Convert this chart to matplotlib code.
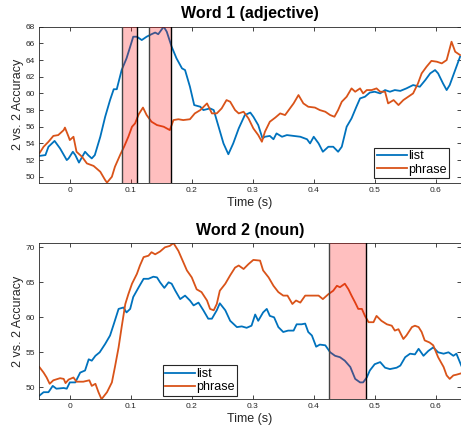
import numpy as np
import matplotlib
matplotlib.use("Agg")
import matplotlib.pyplot as plt

plt.rcParams['font.family'] = ['Liberation Sans', 'DejaVu Sans']

# Word 1 (adjective)
t1_list = [-0.05, -0.04, -0.035, -0.025, -0.016, -0.005, -0.002, 0.005, 0.009, 0.015, 0.025, 0.03,
           0.036, 0.041, 0.05, 0.058, 0.066, 0.072, 0.077, 0.085, 0.093, 0.099, 0.104, 0.11, 0.118,
           0.126, 0.134, 0.14, 0.145, 0.154, 0.159, 0.167, 0.175, 0.184, 0.189, 0.197, 0.204, 0.214,
           0.219, 0.23, 0.236, 0.244, 0.252, 0.26, 0.268, 0.277, 0.287, 0.296, 0.301, 0.309, 0.316,
           0.32, 0.328, 0.334, 0.339, 0.348, 0.356, 0.367, 0.378, 0.389, 0.394, 0.4, 0.408, 0.415,
           0.424, 0.432, 0.44, 0.446, 0.454, 0.462, 0.47, 0.476, 0.484, 0.492, 0.5, 0.509, 0.517,
           0.525, 0.533, 0.542, 0.552, 0.563, 0.574, 0.583, 0.591, 0.599, 0.604, 0.612, 0.618,
           0.623, 0.632, 0.64]
w1_list = [52.5, 52.6, 53.6, 54.3, 53.4, 52.0, 52.2, 53.0, 52.6, 51.7, 53.0, 52.6,
           52.2, 52.6, 54.8, 57.2, 59.2, 60.5, 60.5, 62.8, 64.2, 65.6, 66.8, 66.8, 66.4,
           66.8, 67.1, 67.3, 67.1, 68.0, 67.4, 65.6, 64.2, 63.0, 62.8, 60.8, 58.6, 58.4,
           58.0, 58.2, 58.0, 56.0, 54.0, 52.7, 54.0, 55.8, 57.4, 57.7, 57.2, 56.2, 54.6,
           54.8, 54.9, 54.5, 55.2, 54.8, 55.0, 54.9, 54.8, 54.5, 54.0, 54.8, 54.0, 53.0,
           53.6, 53.6, 53.0, 53.6, 56.0, 57.0, 58.4, 59.4, 59.6, 60.1, 60.2, 60.0, 60.4,
           60.2, 60.4, 60.3, 60.6, 61.0, 60.8, 61.6, 62.4, 62.8, 62.4, 61.2, 60.4,
           61.0, 62.8, 64.4]
t1_phrase = [-0.05, -0.043, -0.035, -0.027, -0.019, -0.01, -0.008, -0.002, 0.0, 0.006, 0.011,
             0.02, 0.028, 0.039, 0.05, 0.058, 0.061, 0.069, 0.074, 0.083, 0.089, 0.096, 0.102,
             0.107, 0.113, 0.12, 0.126, 0.134, 0.143, 0.154, 0.164, 0.17, 0.178, 0.186, 0.197,
             0.205, 0.214, 0.225, 0.233, 0.241, 0.249, 0.257, 0.263, 0.271, 0.277, 0.285, 0.293,
             0.301, 0.309, 0.315, 0.32, 0.328, 0.337, 0.345, 0.353, 0.361, 0.367, 0.375, 0.383,
             0.391, 0.402, 0.41, 0.419, 0.427, 0.434, 0.44, 0.446, 0.454, 0.462, 0.468, 0.476,
             0.481, 0.487, 0.495, 0.503, 0.509, 0.517, 0.522, 0.531, 0.539, 0.547, 0.555, 0.563,
             0.571, 0.577, 0.585, 0.593, 0.602, 0.61, 0.618, 0.626, 0.632, 0.64]
w1_phrase = [52.8, 53.6, 54.2, 54.9, 55.0, 55.6, 55.9, 54.8, 54.4, 54.8, 53.0,
             52.4, 51.6, 51.3, 50.6, 49.6, 49.3, 50.0, 51.2, 52.7, 53.6, 54.8, 56.0,
             56.4, 57.5, 58.3, 57.4, 56.6, 56.2, 56.0, 55.6, 56.8, 56.9, 56.8, 56.9,
             57.6, 58.0, 58.8, 57.6, 57.6, 58.2, 59.2, 59.0, 58.0, 57.6, 57.8, 57.0,
             55.8, 55.0, 54.2, 55.4, 56.6, 57.1, 57.6, 57.4, 58.2, 58.8, 59.8, 58.8,
             58.4, 58.3, 58.0, 57.8, 57.4, 57.2, 58.0, 59.0, 59.6, 60.6, 60.2, 60.6,
             60.0, 60.4, 60.4, 60.6, 60.2, 60.2, 58.8, 59.2, 58.6, 59.2, 59.6, 60.0,
             61.2, 62.4, 63.2, 63.9, 63.8, 63.6, 64.0, 66.2, 65.0, 64.6]
w1_spans = [(0.085, 0.110), (0.1306, 0.1656)]

# Word 2 (noun)
t2_list = [-0.05, -0.043, -0.035, -0.028, -0.022, -0.01, -0.005, 0.0, 0.009, 0.017, 0.025, 0.031,
           0.036, 0.042, 0.049, 0.058, 0.066, 0.072, 0.08, 0.088, 0.093, 0.099, 0.104, 0.113,
           0.121, 0.129, 0.137, 0.143, 0.148, 0.155, 0.162, 0.167, 0.173, 0.181, 0.189, 0.197,
           0.203, 0.211, 0.219, 0.227, 0.233, 0.241, 0.246, 0.255, 0.263, 0.274, 0.282, 0.29,
           0.298, 0.304, 0.309, 0.317, 0.323, 0.328, 0.335, 0.342, 0.35, 0.358, 0.367, 0.372,
           0.38, 0.386, 0.391, 0.397, 0.404, 0.41, 0.419, 0.427, 0.435, 0.443, 0.451, 0.46,
           0.468, 0.476, 0.481, 0.487, 0.492, 0.5, 0.509, 0.517, 0.525, 0.536, 0.542, 0.55,
           0.558, 0.566, 0.572, 0.58, 0.588, 0.596, 0.604, 0.613, 0.621, 0.629, 0.634, 0.642]
w2_list = [48.8, 49.3, 49.3, 50.2, 49.8, 49.9, 49.8, 50.7, 50.7, 52.1, 52.4, 54.0,
           53.8, 54.5, 55.0, 56.2, 57.4, 59.0, 61.2, 61.4, 60.7, 61.2, 62.9, 64.3,
           65.5, 65.5, 65.8, 65.7, 65.0, 64.2, 65.0, 64.8, 63.8, 62.6, 63.1, 62.4,
           61.7, 62.1, 61.0, 59.8, 59.8, 61.0, 62.0, 61.0, 59.5, 58.6, 58.7, 58.5,
           58.8, 60.4, 59.5, 60.7, 61.2, 60.2, 60.0, 58.6, 57.9, 58.1, 58.1, 59.0,
           59.0, 59.1, 57.9, 57.4, 55.8, 56.1, 56.0, 55.0, 54.5, 54.3, 53.8, 52.9,
           51.2, 50.7, 50.7, 51.4, 52.4, 53.3, 53.6, 52.8, 52.6, 52.8, 53.1, 54.3,
           54.8, 54.7, 55.5, 54.5, 55.2, 55.7, 55.0, 54.8, 55.0, 54.5, 54.8, 53.1]
t2_phrase = [-0.05, -0.043, -0.038, -0.033, -0.027, -0.016, -0.01, -0.007, -0.002, 0.006, 0.011,
             0.022, 0.032, 0.036, 0.042, 0.047, 0.052, 0.061, 0.069, 0.074, 0.08, 0.085, 0.091,
             0.096, 0.102, 0.11, 0.115, 0.121, 0.129, 0.134, 0.14, 0.148, 0.156, 0.164, 0.17,
             0.178, 0.185, 0.192, 0.2, 0.208, 0.216, 0.225, 0.23, 0.236, 0.241, 0.246, 0.255,
             0.263, 0.271, 0.277, 0.285, 0.293, 0.301, 0.312, 0.317, 0.326, 0.334, 0.342, 0.35,
             0.357, 0.365, 0.371, 0.378, 0.386, 0.397, 0.408, 0.415, 0.424, 0.432, 0.438, 0.443,
             0.451, 0.457, 0.462, 0.468, 0.473, 0.479, 0.484, 0.49, 0.498, 0.503, 0.511, 0.52,
             0.528, 0.533, 0.539, 0.547, 0.552, 0.561, 0.566, 0.572, 0.577, 0.582, 0.59, 0.596,
             0.604, 0.613, 0.618, 0.623, 0.629, 0.634, 0.642]
w2_phrase = [52.9, 52.1, 51.4, 50.5, 51.0, 51.3, 51.2, 50.6, 51.1, 51.4, 50.8,
             50.8, 51.0, 50.2, 50.5, 49.3, 48.3, 49.3, 50.7, 52.9, 55.7, 58.6, 61.9,
             63.3, 64.8, 66.2, 67.4, 68.6, 68.8, 69.3, 69.0, 69.4, 70.0, 70.2, 70.6,
             69.5, 68.1, 66.7, 65.7, 64.0, 63.6, 62.4, 61.2, 61.0, 61.9, 63.8, 64.8,
             66.0, 67.1, 67.4, 66.9, 67.6, 68.2, 68.1, 66.7, 65.7, 64.5, 63.6, 63.1,
             63.1, 61.9, 62.4, 62.1, 63.1, 63.1, 63.1, 62.6, 63.3, 63.8, 64.5, 64.3,
             64.8, 64.0, 63.1, 62.1, 61.2, 61.2, 60.2, 59.3, 59.3, 60.2, 59.5, 59.0,
             58.8, 58.1, 58.3, 56.9, 57.4, 58.6, 58.8, 58.6, 57.9, 56.7, 56.4, 56.0,
             54.3, 52.9, 51.7, 51.2, 51.7, 51.8, 52.0]
w2_spans = [(0.4257, 0.485)]

blue = '#0072BD'
orange = '#D95319'
axcol = '#262626'

fig = plt.figure(figsize=(4.61, 4.28), dpi=100)
ax1 = fig.add_axes([0.0853, 0.5724, 0.914, 0.3652])
ax2 = fig.add_axes([0.0853, 0.0678, 0.914, 0.3637])

panels = [
    (ax1, t1_list, w1_list, t1_phrase, w1_phrase, w1_spans, 'Word 1 (adjective)',
     (49.25, 68.0), np.arange(50, 69, 2), (0.972, 0.032), 'lower right'),
    (ax2, t2_list, w2_list, t2_phrase, w2_phrase, w2_spans, 'Word 2 (noun)',
     (48.33, 70.57), np.arange(50, 71, 5), (0.2926, 0.021), 'lower left'),
]

for ax, tl, yl, tp, yp, spans, title, ylim, yticks, anchor, loc in panels:
    ax.plot(tl, yl, color=blue, lw=1.3, label='list')
    ax.plot(tp, yp, color=orange, lw=1.3, label='phrase')
    for a, b in spans:
        ax.axvspan(a, b, facecolor=(1, 0, 0), alpha=0.25, edgecolor='none', zorder=3)
        ax.axvline(a, color='#444444', lw=1.0, zorder=4)
        ax.axvline(b, color='black', lw=1.0, zorder=4)
    ax.set_xlim(-0.05, 0.641)
    ax.set_ylim(*ylim)
    ax.set_xticks([0, 0.1, 0.2, 0.3, 0.4, 0.5, 0.6])
    ax.set_xticklabels(['0', '0.1', '0.2', '0.3', '0.4', '0.5', '0.6'])
    ax.set_yticks(yticks)
    ax.tick_params(direction='in', top=True, right=True, length=3, width=0.6,
                   colors=axcol, labelsize=6, pad=3)
    for s in ax.spines.values():
        s.set_color(axcol)
        s.set_linewidth(0.6)
    ax.set_title(title, fontsize=11.5, fontweight='bold', pad=6)
    ax.set_xlabel('Time (s)', fontsize=9, color=axcol, labelpad=2)
    ax.set_ylabel('2 vs. 2 Accuracy', fontsize=9, color=axcol)
    ax.yaxis.set_label_coords(-0.037, 0.5)
    leg = ax.legend(loc=loc, bbox_to_anchor=anchor, borderaxespad=0, fontsize=9,
                    fancybox=False, framealpha=1, edgecolor=axcol, handlelength=2.4,
                    handletextpad=0.1, borderpad=0.2, labelspacing=0.1)
    leg.get_frame().set_linewidth(0.8)

fig.savefig('out.png', dpi=100)
